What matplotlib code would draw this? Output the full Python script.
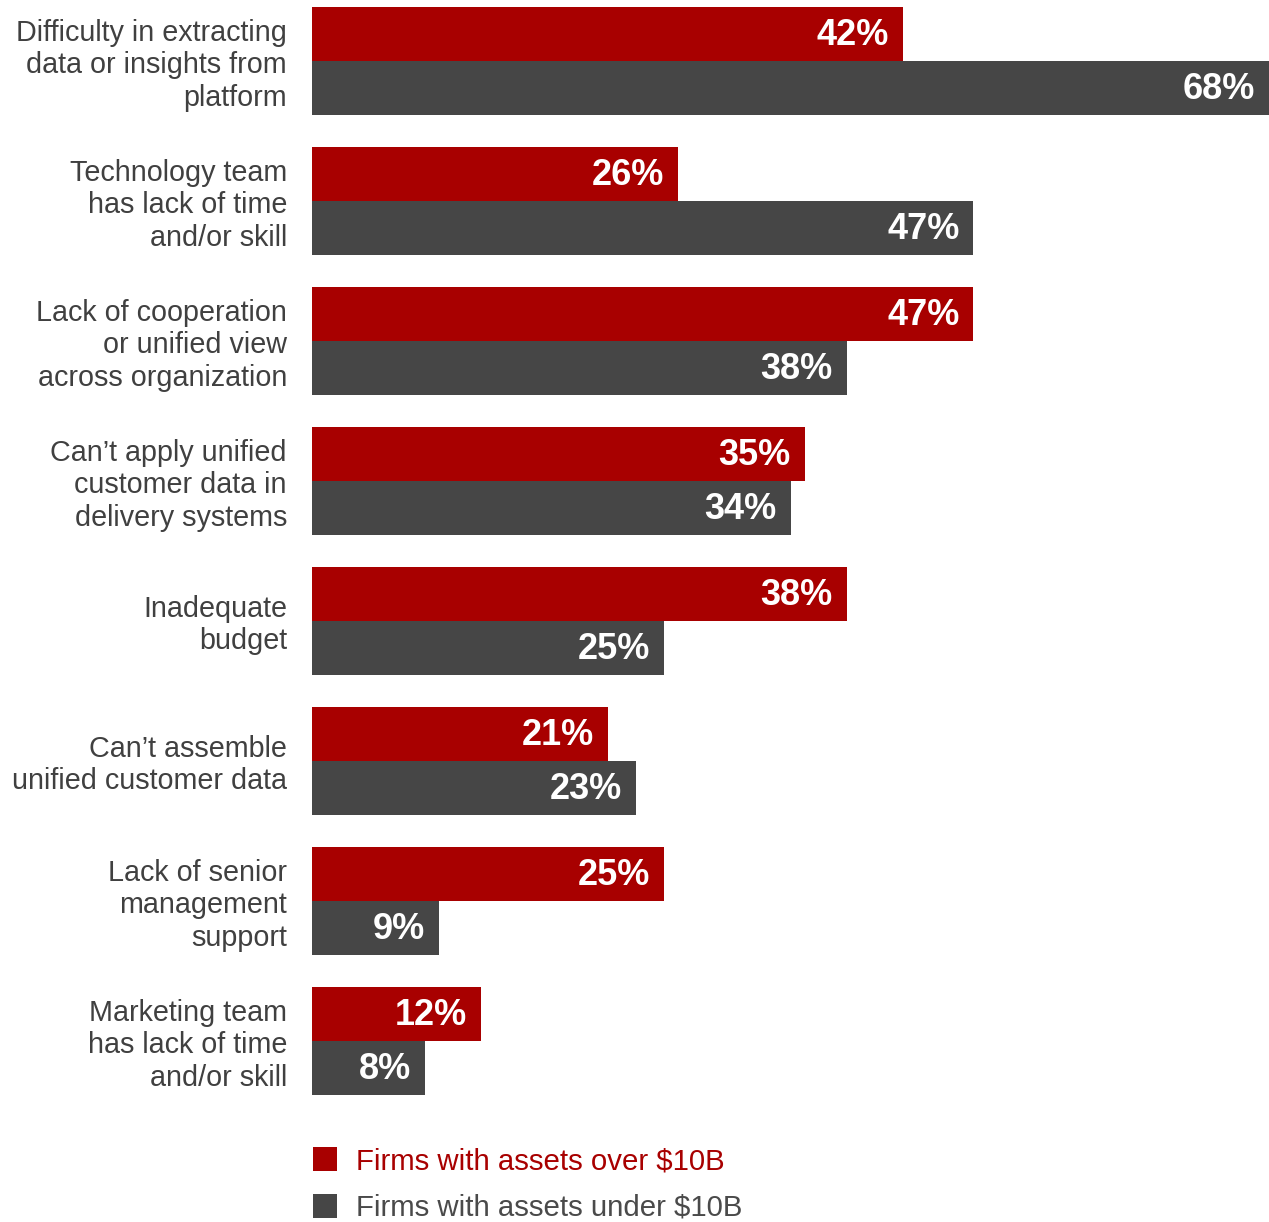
import numpy as np
import matplotlib
matplotlib.use("Agg")
import matplotlib.pyplot as plt
from matplotlib.patches import Rectangle

categories = [
    "Difficulty in extracting\ndata or insights from\nplatform",
    "Technology team\nhas lack of time\nand/or skill",
    "Lack of cooperation\nor unified view\nacross organization",
    "Can\u2019t apply unified\ncustomer data in\ndelivery systems",
    "Inadequate\nbudget",
    "Can\u2019t assemble\nunified customer data",
    "Lack of senior\nmanagement\nsupport",
    "Marketing team\nhas lack of time\nand/or skill",
]
over_10b = [42, 26, 47, 35, 38, 21, 25, 12]
under_10b = [68, 47, 38, 34, 25, 23, 9, 8]
series_names = ["Firms with assets over $10B", "Firms with assets under $10B"]

RED = "#a80000"
GREY = "#464646"
LABEL = "#404040"
FONT = "Liberation Sans"

W, H = 1269, 1222
DPI = 100
fig = plt.figure(figsize=(W / DPI, H / DPI), dpi=DPI)

left_px = 312
ax = fig.add_axes([left_px / W, 0, 1 - left_px / W, 1])

pitch = 140.0          # px between groups
bar_px = 54.0          # px per bar
first_center = 61.0    # px from top to first group's centre
h = bar_px / pitch

pos = np.arange(len(categories))
ax.barh(pos - h / 2, over_10b, height=h, color=RED, linewidth=0)
ax.barh(pos + h / 2, under_10b, height=h, color=GREY, linewidth=0)

ax.set_xlim(0, max(under_10b))
ax.set_ylim((H - first_center) / pitch, -first_center / pitch)
ax.axis("off")

# value labels inside the bar ends
for vals, off in ((over_10b, -h / 2), (under_10b, h / 2)):
    for i, v in enumerate(vals):
        ax.annotate(f"{v}%", xy=(v, i + off), xytext=(-10, -1),
                    textcoords="offset points", ha="right", va="center",
                    color="white", fontsize=26, fontweight="bold",
                    family=FONT)

# category labels to the left of the bars
for i, c in enumerate(categories):
    ax.annotate(c, xy=(0, i), xytext=(-18, -3), textcoords="offset points",
                ha="right", va="center", color=LABEL, fontsize=20.7,
                family=FONT, linespacing=1.21, annotation_clip=False)

# legend
for k, (name, col, txtcol) in enumerate(zip(series_names, [RED, GREY], [RED, "#4a4a4a"])):
    yc = 1159 + k * 47
    fig.add_artist(Rectangle((313 / W, 1 - (yc + 12) / H), 24 / W, 24 / H,
                             transform=fig.transFigure, color=col, lw=0))
    fig.text(356 / W, 1 - (yc + 2) / H, name, ha="left", va="center",
             color=txtcol, fontsize=21.2, family=FONT)

fig.savefig("out.png", dpi=DPI)
